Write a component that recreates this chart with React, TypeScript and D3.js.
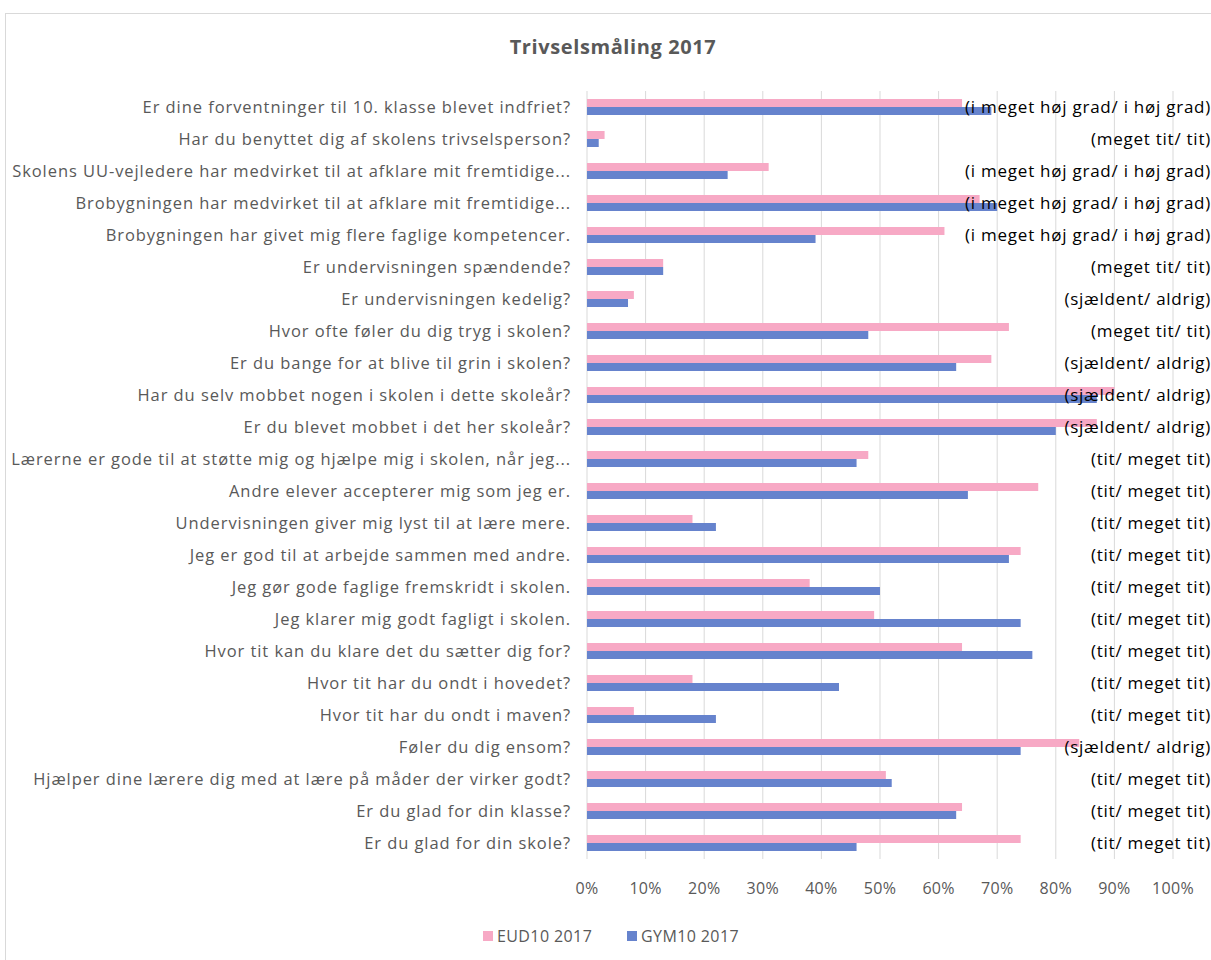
import React from 'react';
import * as d3 from 'd3';

const questions = [
  'Er dine forventninger til 10. klasse blevet indfriet?',
  'Har du benyttet dig af skolens trivselsperson?',
  'Skolens UU-vejledere har medvirket til at afklare mit fremtidige...',
  'Brobygningen har medvirket til at afklare mit fremtidige...',
  'Brobygningen har givet mig flere faglige kompetencer.',
  'Er undervisningen spændende?',
  'Er undervisningen kedelig?',
  'Hvor ofte føler du dig tryg i skolen?',
  'Er du bange for at blive til grin i skolen?',
  'Har du selv mobbet nogen i skolen i dette skoleår?',
  'Er du blevet mobbet i det her skoleår?',
  'Lærerne er gode til at støtte mig og hjælpe mig i skolen, når jeg...',
  'Andre elever accepterer mig som jeg er.',
  'Undervisningen giver mig lyst til at lære mere.',
  'Jeg er god til at arbejde sammen med andre.',
  'Jeg gør gode faglige fremskridt i skolen.',
  'Jeg klarer mig godt fagligt i skolen.',
  'Hvor tit kan du klare det du sætter dig for?',
  'Hvor tit har du ondt i hovedet?',
  'Hvor tit har du ondt i maven?',
  'Føler du dig ensom?',
  'Hjælper dine lærere dig med at lære på måder der virker godt?',
  'Er du glad for din klasse?',
  'Er du glad for din skole?',
];

const answers = [
  '(i meget høj grad/ i høj grad)',
  '(meget tit/ tit)',
  '(i meget høj grad/ i høj grad)',
  '(i meget høj grad/ i høj grad)',
  '(i meget høj grad/ i høj grad)',
  '(meget tit/ tit)',
  '(sjældent/ aldrig)',
  '(meget tit/ tit)',
  '(sjældent/ aldrig)',
  '(sjældent/ aldrig)',
  '(sjældent/ aldrig)',
  '(tit/ meget tit)',
  '(tit/ meget tit)',
  '(tit/ meget tit)',
  '(tit/ meget tit)',
  '(tit/ meget tit)',
  '(tit/ meget tit)',
  '(tit/ meget tit)',
  '(tit/ meget tit)',
  '(tit/ meget tit)',
  '(sjældent/ aldrig)',
  '(tit/ meget tit)',
  '(tit/ meget tit)',
  '(tit/ meget tit)',
];

const eud10 = [64, 3, 31, 67, 61, 13, 8, 72, 69, 90, 87, 48, 77, 18, 74, 38, 49, 64, 18, 8, 84, 51, 64, 74];
const gym10 = [69, 2, 24, 70, 39, 13, 7, 48, 63, 87, 80, 46, 65, 22, 72, 50, 74, 76, 43, 22, 74, 52, 63, 46];

const seriesNames = ['EUD10 2017', 'GYM10 2017'];
const seriesColors = ['#F7A9C5', '#6683CD'];
const xTicks = [0, 10, 20, 30, 40, 50, 60, 70, 80, 90, 100];

const W = 1211;
const H = 960;
const left = 587;
const right = 1173;
const top = 91;
const bottom = 859;
const font = '"Open Sans", Lato, sans-serif';

export default function App() {
  const x = d3.scaleLinear().domain([0, 100]).range([left, right]);
  const y = d3.scaleBand<string>().domain(questions).range([top, bottom]).paddingInner(0.5).paddingOuter(0.25);
  const inner = d3.scaleBand<string>().domain(seriesNames).range([0, y.bandwidth()]);
  const values = [eud10, gym10];

  return (
    <svg width={W} height={H} style={{ position: 'absolute', left: 0, top: 0, background: '#fff' }}>
      <rect x={5.5} y={13.5} width={W + 10} height={H} fill="#fff" stroke="#d9d9d9" />
      <text x={613} y={54} textAnchor="middle" fontFamily={font} fontSize={20} fontWeight="bold" letterSpacing={0.6} fill="#595959">
        Trivselsmåling 2017
      </text>
      {xTicks.map(t => (
        <g key={t}>
          <line x1={x(t)} x2={x(t)} y1={top} y2={bottom} stroke="#d9d9d9" />
          <text x={x(t)} y={894} textAnchor="middle" fontFamily={font} fontSize={16} letterSpacing={0.3} fill="#595959">
            {t}%
          </text>
        </g>
      ))}
      {questions.map((q, i) => (
        <g key={q}>
          <text x={571} y={(y(q) as number) + y.bandwidth() / 2 + 5.5} textAnchor="end" fontFamily={font} fontSize={16.5} letterSpacing={0.93} fill="#595959">
            {q}
          </text>
          {values.map((vals, s) => (
            <rect
              key={s}
              x={x(0)}
              y={(y(q) as number) + (inner(seriesNames[s]) as number)}
              width={x(vals[i]) - x(0)}
              height={inner.bandwidth()}
              fill={seriesColors[s]}
            />
          ))}
        </g>
      ))}
      {questions.map((q, i) => (
        <text key={'a' + i} x={1211} y={(y(q) as number) + y.bandwidth() / 2 + 6} textAnchor="end" fontFamily={font} fontSize={17} letterSpacing={0.75} fill="#000">
          {answers[i]}
        </text>
      ))}
      {seriesNames.map((n, s) => (
        <g key={n} transform={`translate(${s === 0 ? 483 : 627},936)`}>
          <rect x={0} y={-5} width={10} height={10} fill={seriesColors[s]} />
          <text x={14} y={6} fontFamily={font} fontSize={16} letterSpacing={0.4} fill="#595959">
            {n}
          </text>
        </g>
      ))}
    </svg>
  );
}
